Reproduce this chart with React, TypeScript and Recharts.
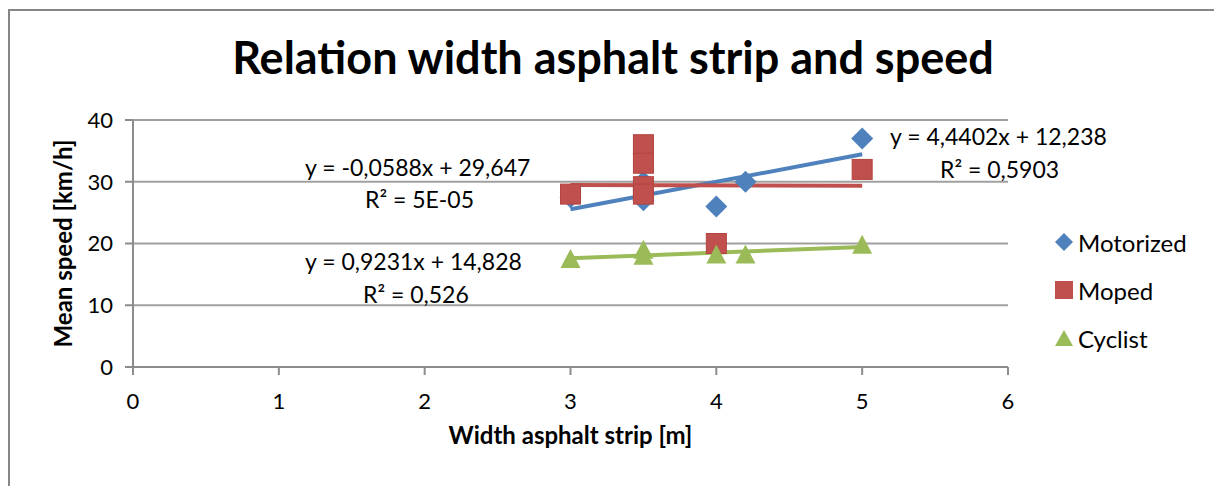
import { ComposedChart, Scatter, Line, XAxis, YAxis, CartesianGrid, Label } from 'recharts';

const FONT = 'Lato, "Liberation Sans", sans-serif';

// x ticks / y ticks
const xTicks = [0, 1, 2, 3, 4, 5, 6];
const yTicks = [0, 10, 20, 30, 40];

// measured points (width [m], mean speed [km/h])
const motorized = [
  { x: 3, y: 27.5 },
  { x: 3.5, y: 27 },
  { x: 3.5, y: 30 },
  { x: 4, y: 26 },
  { x: 4.2, y: 30 },
  { x: 5, y: 37 },
];
const moped = [
  { x: 3, y: 28 },
  { x: 3.5, y: 36 },
  { x: 3.5, y: 33 },
  { x: 3.5, y: 29.2 },
  { x: 3.5, y: 28 },
  { x: 4, y: 20 },
  { x: 5, y: 32 },
];
const cyclist = [
  { x: 3, y: 17.5 },
  { x: 3.5, y: 19 },
  { x: 3.5, y: 18 },
  { x: 4, y: 18.2 },
  { x: 4.2, y: 18.2 },
  { x: 5, y: 19.8 },
];

// linear trendline end points
const motorizedTrend = [
  { x: 3, y: 25.56 },
  { x: 5, y: 34.44 },
];
const mopedTrend = [
  { x: 3, y: 29.47 },
  { x: 5, y: 29.35 },
];
const cyclistTrend = [
  { x: 3, y: 17.6 },
  { x: 5, y: 19.44 },
];

const BLUE = '#4F81BD';
const RED = '#C0504D';
const GREEN = '#9BBB59';

const Diamond = (props: any) => {
  const { cx, cy } = props;
  if (cx == null || cy == null) return null;
  const r = 11;
  return <polygon points={`${cx},${cy - r} ${cx + r},${cy} ${cx},${cy + r} ${cx - r},${cy}`} fill={BLUE} />;
};

const Square = (props: any) => {
  const { cx, cy } = props;
  if (cx == null || cy == null) return null;
  return <rect x={cx - 10} y={cy - 10} width={20} height={20} fill={RED} stroke="#B3443F" strokeWidth={1} />;
};

const Triangle = (props: any) => {
  const { cx, cy } = props;
  if (cx == null || cy == null) return null;
  return <polygon points={`${cx},${cy - 10} ${cx + 10},${cy + 9} ${cx - 10},${cy + 9}`} fill={GREEN} />;
};

const legendItems = [
  { name: 'Motorized', color: BLUE, kind: 'diamond' },
  { name: 'Moped', color: RED, kind: 'square' },
  { name: 'Cyclist', color: GREEN, kind: 'triangle' },
];

const LegendMarker = ({ kind, color }: { kind: string; color: string }) => (
  <svg width={20} height={20} style={{ marginRight: 4 }}>
    {kind === 'diamond' && <polygon points="10,1 19,10 10,19 1,10" fill={color} />}
    {kind === 'square' && <rect x={1} y={1} width={18} height={18} fill={color} />}
    {kind === 'triangle' && <polygon points="10,2 19,18 1,18" fill={color} />}
  </svg>
);

const annotations = [
  { text: 'y = 4,4402x + 12,238', x: 890, y: 145 },
  { text: 'R² = 0,5903', x: 940, y: 178 },
  { text: 'y = -0,0588x + 29,647', x: 305, y: 176 },
  { text: 'R² = 5E-05', x: 365, y: 208 },
  { text: 'y = 0,9231x + 14,828', x: 305, y: 270 },
  { text: 'R² = 0,526', x: 363, y: 303 },
];

export default function App() {
  return (
    <div style={{ position: 'fixed', left: 0, top: 0, width: 1214, height: 486, background: '#fff', overflow: 'hidden', fontFamily: FONT }}>
      <div style={{ position: 'absolute', left: 8, top: 9, width: 1214, height: 486, borderLeft: '2px solid #868686', borderTop: '2px solid #868686' }} />
      <div style={{ position: 'absolute', left: 0, top: 30, width: 1226, textAlign: 'center', fontSize: 45, fontWeight: 700, color: '#000' }}>
        Relation width asphalt strip and speed
      </div>
      <div style={{ position: 'absolute', left: 0, top: 0 }}>
        <ComposedChart width={1214} height={486} margin={{ top: 120, right: 206, bottom: 79, left: 73 }}>
          <CartesianGrid vertical={false} stroke="#A0A0A0" strokeWidth={2} />
          <XAxis
            type="number"
            dataKey="x"
            domain={[0, 6]}
            ticks={xTicks}
            interval={0}
            height={40}
            stroke="#8C8C8C"
            strokeWidth={2}
            tickSize={8}
            tickMargin={18}
            tick={{ fill: '#000', fontSize: 22, fontFamily: FONT }}
          >
            <Label
              value="Width asphalt strip [m]"
              position="bottom"
              offset={20}
              style={{ fontSize: 24, fontWeight: 700, fill: '#000', fontFamily: FONT }}
            />
          </XAxis>
          <YAxis
            type="number"
            domain={[0, 40]}
            ticks={yTicks}
            interval={0}
            width={60}
            stroke="#8C8C8C"
            strokeWidth={2}
            tickSize={8}
            tickMargin={12}
            tick={{ fill: '#000', fontSize: 22, fontFamily: FONT }}
          >
            <Label
              content={({ viewBox }: any) => {
                const cy = viewBox.y + viewBox.height / 2;
                return (
                  <text
                    x={62}
                    y={cy}
                    transform={`rotate(-90 62 ${cy})`}
                    textAnchor="middle"
                    dominantBaseline="central"
                    style={{ fontSize: 24, fontWeight: 700, fill: '#000', fontFamily: FONT }}
                  >
                    Mean speed [km/h]
                  </text>
                );
              }}
            />
          </YAxis>
          <Scatter name="Motorized" data={motorized} dataKey="y" shape={Diamond} isAnimationActive={false} />
          <Scatter name="Moped" data={moped} dataKey="y" shape={Square} isAnimationActive={false} />
          <Scatter name="Cyclist" data={cyclist} dataKey="y" shape={Triangle} isAnimationActive={false} />
          <Line data={motorizedTrend} dataKey="y" stroke={BLUE} strokeWidth={4} dot={false} activeDot={false} isAnimationActive={false} legendType="none" />
          <Line data={mopedTrend} dataKey="y" stroke={RED} strokeWidth={4} dot={false} activeDot={false} isAnimationActive={false} legendType="none" />
          <Line data={cyclistTrend} dataKey="y" stroke={GREEN} strokeWidth={4} dot={false} activeDot={false} isAnimationActive={false} legendType="none" />
        </ComposedChart>
      </div>
      <svg width={1214} height={486} style={{ position: 'absolute', left: 0, top: 0, pointerEvents: 'none' }}>
        {annotations.map((a) => (
          <text key={a.text} x={a.x} y={a.y} style={{ fontSize: 23, fill: '#000', fontFamily: FONT }}>
            {a.text}
          </text>
        ))}
      </svg>
      <div style={{ position: 'absolute', left: 1054, top: 218 }}>
        {legendItems.map((item) => (
          <div key={item.name} style={{ display: 'flex', alignItems: 'center', height: 48, fontSize: 24, color: '#000' }}>
            <LegendMarker kind={item.kind} color={item.color} />
            {item.name}
          </div>
        ))}
      </div>
    </div>
  );
}
